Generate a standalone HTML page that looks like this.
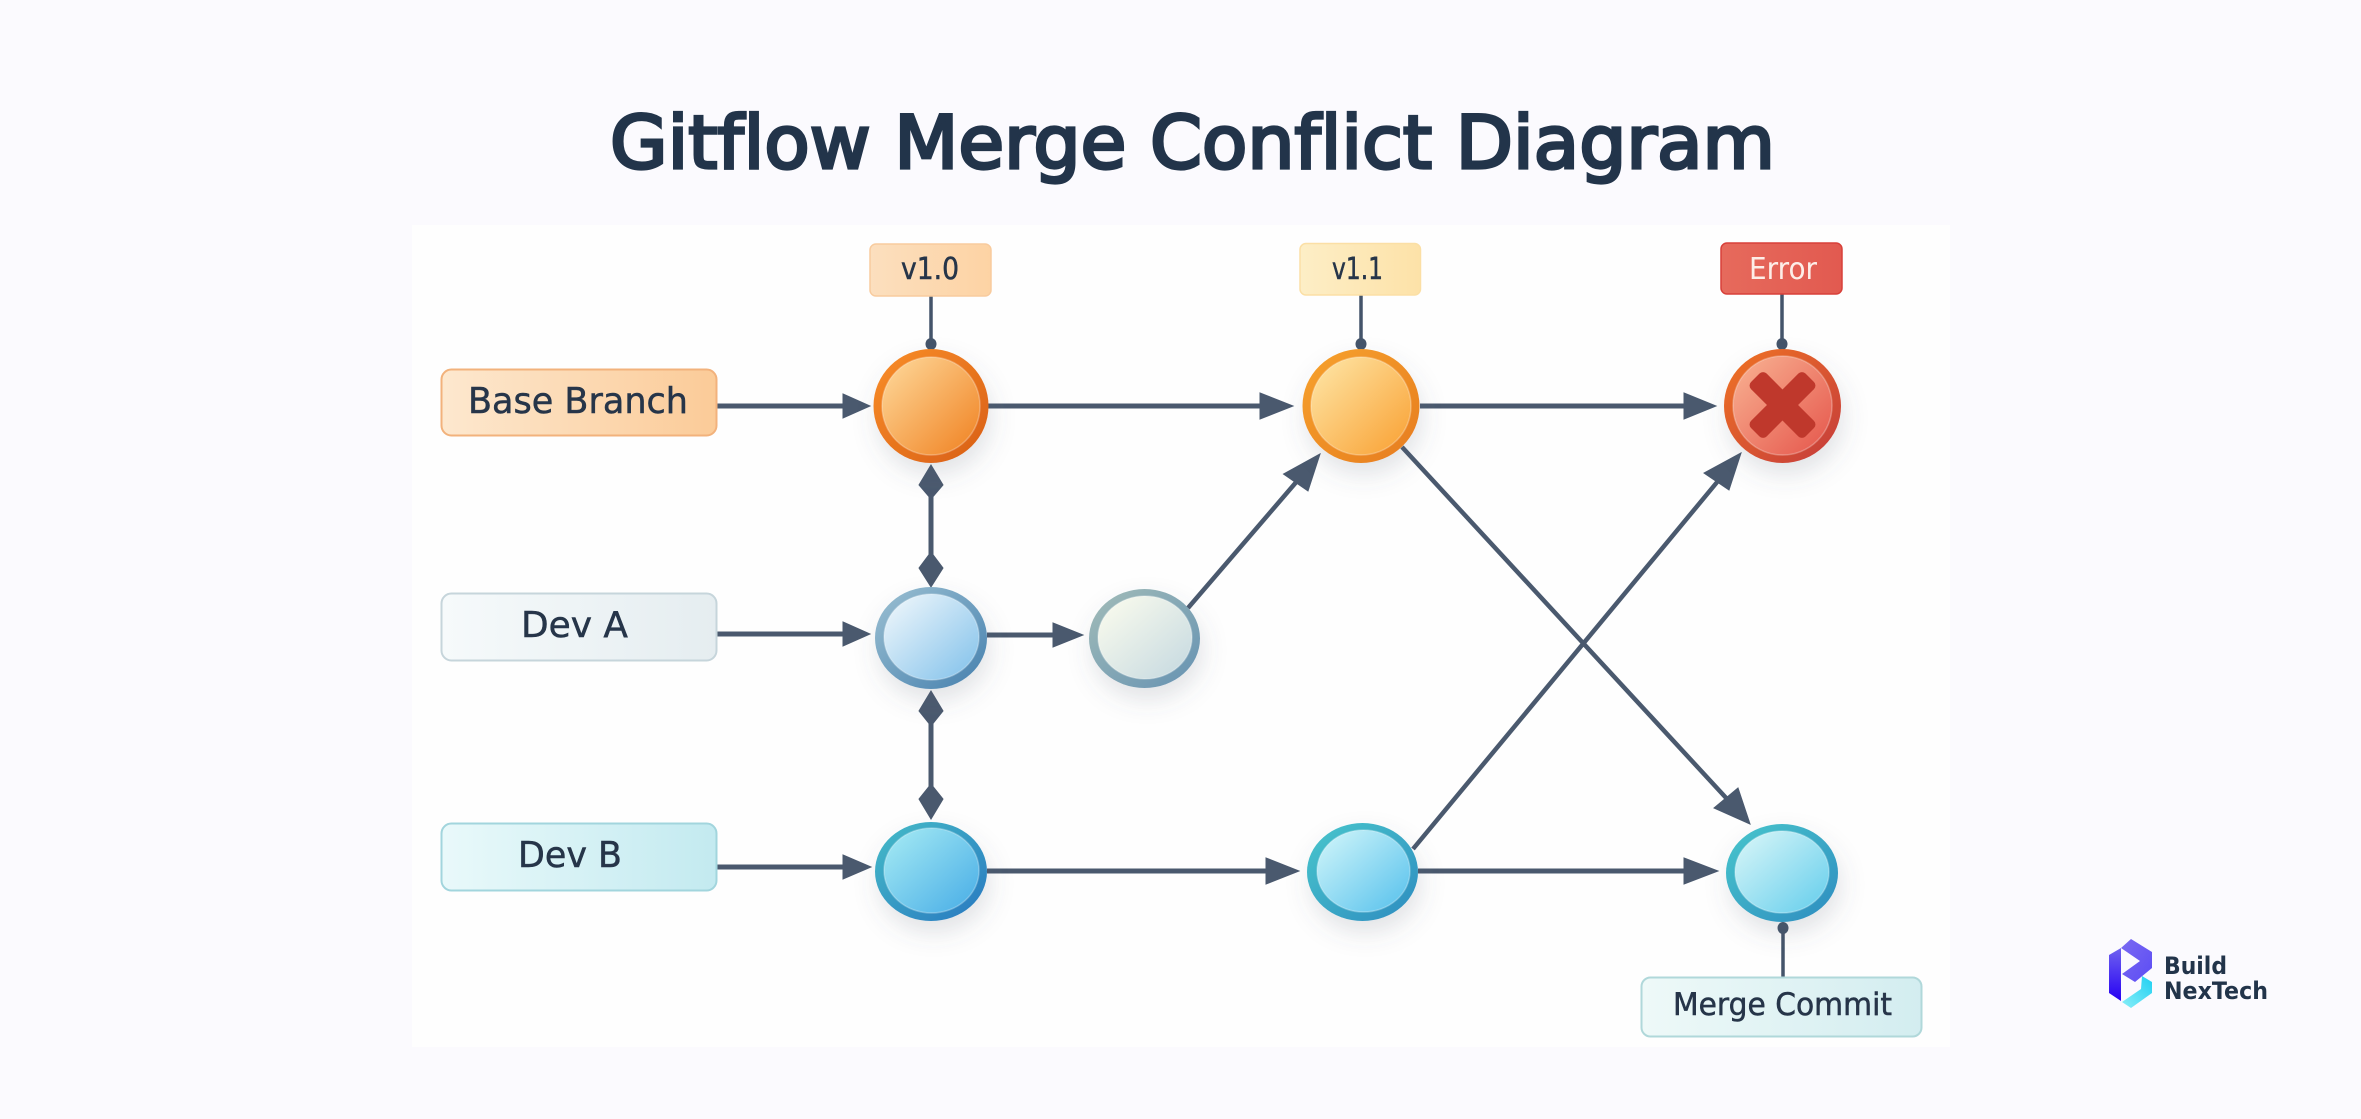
<!DOCTYPE html>
<html><head><meta charset="utf-8"><title>Gitflow Merge Conflict Diagram</title>
<style>html,body{margin:0;padding:0;background:#fbfafe;width:2361px;height:1119px;overflow:hidden}svg{display:block}text{font-family:"DejaVu Sans","Liberation Sans",sans-serif;font-variant-ligatures:none}.in{stroke:#fff;stroke-opacity:.28;stroke-width:1.5}</style></head>
<body>
<svg width="2361" height="1119" viewBox="0 0 2361 1119" xmlns="http://www.w3.org/2000/svg">
<defs>
<filter id="sh" x="-50%" y="-50%" width="200%" height="210%"><feDropShadow dx="3" dy="12" stdDeviation="12" flood-color="#55606e" flood-opacity=".17"/></filter>
<linearGradient id="r1" x1="0" y1="0" x2="1" y2="1"><stop offset="0" stop-color="#f98e28"/><stop offset="1" stop-color="#d85e16"/></linearGradient>
<linearGradient id="i1" x1="0" y1="0" x2="1" y2="1"><stop offset="0" stop-color="#fedb9e"/><stop offset="1" stop-color="#f0801f"/></linearGradient>
<linearGradient id="r2" x1="0" y1="0" x2="1" y2="1"><stop offset="0" stop-color="#f7a22e"/><stop offset="1" stop-color="#e67c1e"/></linearGradient>
<linearGradient id="i2" x1="0" y1="0" x2="1" y2="1"><stop offset="0" stop-color="#fee8aa"/><stop offset="1" stop-color="#f99f30"/></linearGradient>
<linearGradient id="r3" x1="0" y1="0" x2="1" y2="1"><stop offset="0" stop-color="#f07424"/><stop offset="1" stop-color="#c43a3c"/></linearGradient>
<linearGradient id="i3" x1="0" y1="0" x2="1" y2="1"><stop offset="0" stop-color="#f9b494"/><stop offset="1" stop-color="#e5544a"/></linearGradient>
<linearGradient id="r4" x1="0" y1="0" x2="1" y2="1"><stop offset="0" stop-color="#9cc0d2"/><stop offset="1" stop-color="#4580ae"/></linearGradient>
<linearGradient id="i4" x1="0" y1="0" x2="1" y2="1"><stop offset="0" stop-color="#f4f9fc"/><stop offset="1" stop-color="#7fc0ea"/></linearGradient>
<linearGradient id="r5" x1="0" y1="0" x2="1" y2="1"><stop offset="0" stop-color="#a2bcb8"/><stop offset="1" stop-color="#6592b2"/></linearGradient>
<linearGradient id="i5" x1="0" y1="0" x2="1" y2="1"><stop offset="0" stop-color="#fdfdee"/><stop offset="1" stop-color="#c4d8e0"/></linearGradient>
<linearGradient id="r6" x1="0" y1="0" x2="1" y2="1"><stop offset="0" stop-color="#45bcc8"/><stop offset="1" stop-color="#2878c0"/></linearGradient>
<linearGradient id="i6" x1="0" y1="0" x2="1" y2="1"><stop offset="0" stop-color="#a8ecf4"/><stop offset="1" stop-color="#46ace6"/></linearGradient>
<linearGradient id="r7" x1="0" y1="0" x2="1" y2="1"><stop offset="0" stop-color="#48c6cc"/><stop offset="1" stop-color="#2e8cc0"/></linearGradient>
<linearGradient id="i7" x1="0" y1="0" x2="1" y2="1"><stop offset="0" stop-color="#d4f7fa"/><stop offset="1" stop-color="#54c0ec"/></linearGradient>
<linearGradient id="i8" x1="0" y1="0" x2="1" y2="1"><stop offset="0" stop-color="#dcf7f8"/><stop offset="1" stop-color="#62cdec"/></linearGradient>
<linearGradient id="bBase" x1="0" y1="0" x2="1" y2="0"><stop offset="0" stop-color="#fde8cf"/><stop offset="1" stop-color="#fbcb98"/></linearGradient>
<linearGradient id="bA" x1="0" y1="0" x2="1" y2="0"><stop offset="0" stop-color="#f6fafb"/><stop offset="1" stop-color="#e5edf0"/></linearGradient>
<linearGradient id="bB" x1="0" y1="0" x2="1" y2="0"><stop offset="0" stop-color="#e9f9fa"/><stop offset="1" stop-color="#c3eaf0"/></linearGradient>
<linearGradient id="bM" x1="0" y1="0" x2="1" y2="0"><stop offset="0" stop-color="#eef9f8"/><stop offset="1" stop-color="#d3edf0"/></linearGradient>
<linearGradient id="bV0" x1="0" y1="0" x2="1" y2="0"><stop offset="0" stop-color="#fcdfbe"/><stop offset="1" stop-color="#fdd3a4"/></linearGradient>
<linearGradient id="bV1" x1="0" y1="0" x2="1" y2="0"><stop offset="0" stop-color="#fdeec6"/><stop offset="1" stop-color="#fde2a8"/></linearGradient>
<linearGradient id="bE" x1="0" y1="0" x2="1" y2="0"><stop offset="0" stop-color="#e66a5c"/><stop offset="1" stop-color="#e25a50"/></linearGradient>
<linearGradient id="l1" x1="0" y1="1" x2="0" y2="0"><stop offset="0" stop-color="#2600f2"/><stop offset="1" stop-color="#6f62f0"/></linearGradient>
<linearGradient id="l2" x1="0" y1="0" x2="1" y2="1"><stop offset="0" stop-color="#7a6af2"/><stop offset="1" stop-color="#5c4cf4"/></linearGradient>
<linearGradient id="l3" x1="1" y1="0" x2="0" y2="1"><stop offset="0" stop-color="#1fd0f2"/><stop offset="1" stop-color="#8aeef8"/></linearGradient>
</defs>

<rect width="2361" height="1119" fill="#fbfafe"/>
<rect x="412" y="225" width="1538" height="822" fill="#fefefe"/>

<text x="610" y="168" font-size="73" fill="#22344a" stroke="#22344a" stroke-width="3.2" textLength="1165" lengthAdjust="spacingAndGlyphs">Gitflow Merge Conflict Diagram</text>

<!-- stems -->
<g stroke="#44546a" stroke-width="3.5" fill="#44546a">
<line x1="931" y1="296" x2="931" y2="345"/><line x1="1361" y1="295" x2="1361" y2="345"/><line x1="1782" y1="294" x2="1782" y2="345"/><line x1="1783" y1="925" x2="1783" y2="977"/>
<ellipse cx="931" cy="344" rx="5.5" ry="6" stroke="none"/><ellipse cx="1361" cy="344" rx="5.5" ry="6" stroke="none"/><ellipse cx="1782" cy="344" rx="5.5" ry="6" stroke="none"/><ellipse cx="1783" cy="928" rx="5.5" ry="6" stroke="none"/>
</g>

<!-- connectors -->
<g stroke="#4a596e" stroke-width="5" fill="none">
<line x1="716" y1="406" x2="850" y2="406"/>
<line x1="716" y1="634" x2="850" y2="634"/>
<line x1="716" y1="867" x2="850" y2="867"/>
<line x1="987" y1="635" x2="1060" y2="635"/>
<line x1="988" y1="406" x2="1265" y2="406"/>
<line x1="1420" y1="406" x2="1690" y2="406"/>
<line x1="987" y1="871" x2="1272" y2="871"/>
<line x1="1418" y1="871" x2="1690" y2="871"/>
<line x1="931" y1="495" x2="931" y2="556"/>
<line x1="931" y1="722" x2="931" y2="788"/>
</g>
<g stroke="#4a596e" stroke-width="4.5" fill="none">
<line x1="1188" y1="608" x2="1298" y2="480"/>
<line x1="1413" y1="849" x2="1718" y2="481"/>
<line x1="1402" y1="447" x2="1728" y2="800"/>
</g>

<!-- arrowheads -->
<g fill="#4a596e" stroke="#4a596e" stroke-width="1" stroke-linejoin="miter">
<polygon points="843,394 870,406 843,418"/>
<polygon points="843,622 870,634 843,646"/>
<polygon points="843,855 871,867 843,879"/>
<polygon points="1053,623 1083,635 1053,647"/>
<polygon points="1260,393 1293,406 1260,419"/>
<polygon points="1684,393 1716,406 1684,419"/>
<polygon points="1266,858 1299,871 1266,884"/>
<polygon points="1684,858 1718,871 1684,884"/>
<polygon points="1320,454 1283.5,474 1308,491"/>
<polygon points="1741,453 1704,473 1729,490"/>
<polygon points="1750,824 1714,808 1738,788"/>
<polygon points="931,465 943,485 931,499 919,485"/>
<polygon points="931,552 943,568 931,587 919,568"/>
<polygon points="931,691 943,711 931,726 919,711"/>
<polygon points="931,784 943,799 931,819 919,799"/>
</g>

<!-- nodes -->
<g filter="url(#sh)"><ellipse cx="931" cy="406" rx="57.5" ry="57" fill="url(#r1)"/></g><ellipse class="in" cx="931" cy="406" rx="49" ry="49" fill="url(#i1)"/>
<g filter="url(#sh)"><ellipse cx="1361" cy="406" rx="58.5" ry="57" fill="url(#r2)"/></g><ellipse class="in" cx="1361" cy="406" rx="50" ry="49" fill="url(#i2)"/>
<g filter="url(#sh)"><ellipse cx="1782.5" cy="406" rx="58.5" ry="57" fill="url(#r3)"/></g><ellipse class="in" cx="1782.5" cy="405.5" rx="49.5" ry="49.5" fill="url(#i3)"/>
<g fill="#bf382c"><rect x="1744" y="394" width="77" height="22" rx="5" transform="rotate(45 1782.5 405)"/><rect x="1744" y="394" width="77" height="22" rx="5" transform="rotate(-45 1782.5 405)"/></g>
<g filter="url(#sh)"><ellipse cx="931" cy="638" rx="56" ry="51" fill="url(#r4)"/></g><ellipse class="in" cx="931.5" cy="637" rx="47.5" ry="43" fill="url(#i4)"/>
<g filter="url(#sh)"><ellipse cx="1144.5" cy="638.5" rx="55.5" ry="49.5" fill="url(#r5)"/></g><ellipse class="in" cx="1145" cy="637.5" rx="47" ry="41.5" fill="url(#i5)"/>
<g filter="url(#sh)"><ellipse cx="931" cy="871.5" rx="56" ry="49.5" fill="url(#r6)"/></g><ellipse class="in" cx="931.5" cy="870.5" rx="47.5" ry="42.5" fill="url(#i6)"/>
<g filter="url(#sh)"><ellipse cx="1362.5" cy="872" rx="55.5" ry="49" fill="url(#r7)"/></g><ellipse class="in" cx="1363.5" cy="871" rx="46.5" ry="41" fill="url(#i7)"/>
<g filter="url(#sh)"><ellipse cx="1782" cy="873" rx="56" ry="49" fill="url(#r7)"/></g><ellipse class="in" cx="1782" cy="872" rx="47" ry="41" fill="url(#i8)"/>

<!-- boxes -->
<rect x="441.5" y="369.5" width="275" height="66" rx="10" fill="url(#bBase)" stroke="#f2b27c" stroke-width="2"/>
<rect x="441.5" y="593.5" width="275" height="67" rx="10" fill="url(#bA)" stroke="#c6d5db" stroke-width="2"/>
<rect x="441.5" y="823.5" width="275" height="67" rx="10" fill="url(#bB)" stroke="#a2d5dd" stroke-width="2"/>
<rect x="1641.5" y="977.5" width="280" height="59" rx="9" fill="url(#bM)" stroke="#b0d8da" stroke-width="2"/>
<rect x="870" y="244" width="121" height="52" rx="6" fill="url(#bV0)" stroke="#f8cb9e" stroke-width="1.5"/>
<rect x="1300" y="243.5" width="120.5" height="51.5" rx="6" fill="url(#bV1)" stroke="#fbdfa5" stroke-width="1.5"/>
<rect x="1721" y="243" width="121" height="51" rx="6" fill="url(#bE)" stroke="#d8403a" stroke-width="1.5"/>

<!-- labels -->
<g fill="#263549" stroke="#263549" stroke-width=".5">
<text x="468" y="413" font-size="36" textLength="220" lengthAdjust="spacingAndGlyphs">Base Branch</text>
<text x="521" y="637" font-size="36" textLength="107" lengthAdjust="spacingAndGlyphs">Dev A</text>
<text x="518" y="867" font-size="36" textLength="104" lengthAdjust="spacingAndGlyphs">Dev B</text>
<text x="901" y="279" font-size="30" textLength="58" lengthAdjust="spacingAndGlyphs">v1.0</text>
<text x="1332" y="279" font-size="30" textLength="51" lengthAdjust="spacingAndGlyphs">v1.1</text>
<text x="1673" y="1015" font-size="31" textLength="219" lengthAdjust="spacingAndGlyphs">Merge Commit</text>
</g>
<text x="1749" y="279" font-size="30" fill="#fdeee8" textLength="68" lengthAdjust="spacingAndGlyphs">Error</text>

<!-- logo -->
<polygon points="2109,955 2121,948 2121,1001 2109,993" fill="url(#l1)"/>
<polygon points="2121,948 2131,939 2152,952 2152,968 2135,982 2122,974 2140,961 2121,948" fill="url(#l2)"/>
<polygon points="2142,976 2152,982 2152,993 2131,1008 2122,1002 2141,989" fill="url(#l3)"/>
<g fill="#22344a" font-weight="700" style="font-family:'Liberation Sans',sans-serif">
<text x="2164" y="974" font-size="24" textLength="63" lengthAdjust="spacingAndGlyphs">Build</text>
<text x="2164" y="999" font-size="24" textLength="104" lengthAdjust="spacingAndGlyphs">NexTech</text>
</g>
</svg>
</body></html>
